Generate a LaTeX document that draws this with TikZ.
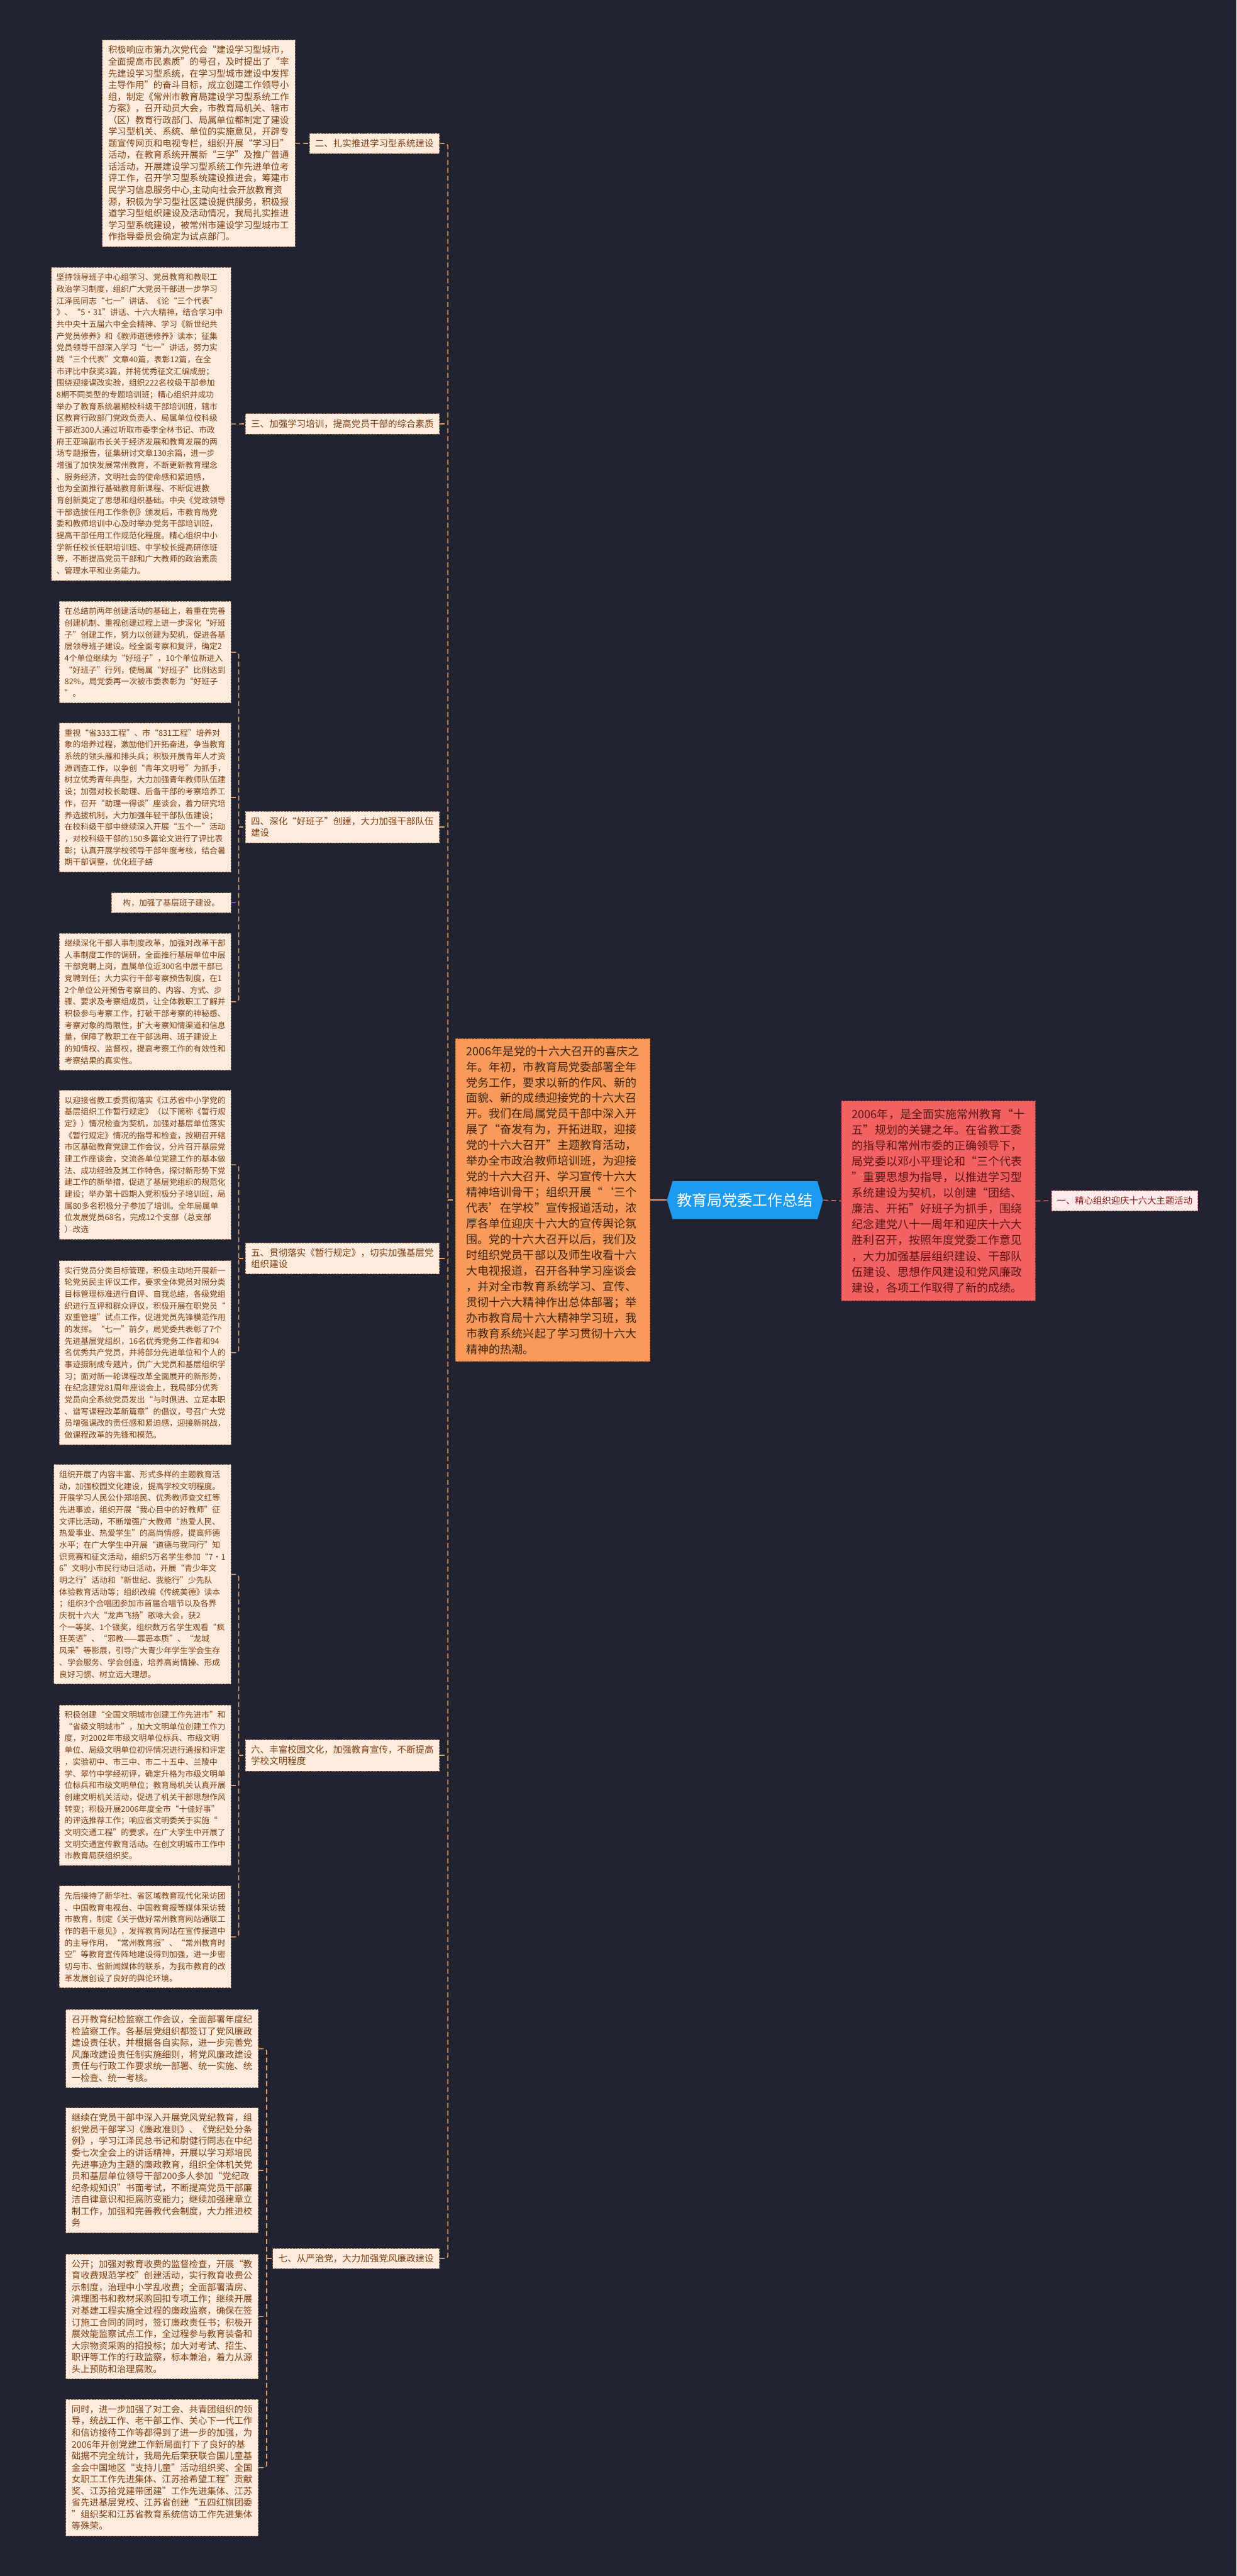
\documentclass[tikz,border=0pt]{standalone}
\usepackage{fontspec}
\setmainfont{Noto Sans CJK SC}
\usetikzlibrary{shapes.symbols}
\definecolor{bgc}{HTML}{212430}
\definecolor{leaffill}{HTML}{FDEBDD}
\definecolor{leafborder}{HTML}{9C7355}
\definecolor{leaftext}{HTML}{7B3F12}
\definecolor{connc}{HTML}{E8A067}
\definecolor{orangefill}{HTML}{F89A5A}
\definecolor{orangeborder}{HTML}{C8682A}
\definecolor{orangetext}{HTML}{3B2410}
\definecolor{bluefill}{HTML}{1D9BF0}
\definecolor{redfill}{HTML}{F26262}
\definecolor{redborder}{HTML}{B83C3C}
\definecolor{redtext}{HTML}{5B1414}
\definecolor{pinkfill}{HTML}{FDEAEA}
\definecolor{pinktext}{HTML}{8B1A1A}
\definecolor{redconnc}{HTML}{E07070}
\tikzset{
  boxbase/.style={draw=leafborder, fill=leaffill, text=leaftext, align=left,
    line width=0.35pt, dash pattern=on 1.2pt off 0.6pt, anchor=east},
  leafsmall/.style={boxbase, inner xsep=3.2pt, inner ysep=3.7pt,
    font=\fontsize{4.9}{7.15}\selectfont},
  leafbig/.style={boxbase, inner xsep=3.4pt, inner ysep=3.5pt,
    font=\fontsize{5.5}{7.1}\selectfont},
  labelbox/.style={boxbase, inner xsep=3.4pt, inner ysep=3.5pt,
    font=\fontsize{5.56}{6.9}\selectfont},
  conn/.style={draw=connc, line width=0.6pt, dash pattern=on 3pt off 1.8pt, rounded corners=1.5pt},
  redconn/.style={draw=redconnc, line width=0.6pt, dash pattern=on 3pt off 1.8pt},
  solidconn/.style={draw=connc, line width=0.8pt},
}
\begin{document}
\begin{tikzpicture}[x=1pt,y=-1pt]
\fill[bgc] (0,0) rectangle (752.7,1568);
\path[use as bounding box] (0,0) rectangle (752.7,1568);

% ---------- centre ----------
\node[shape=signal, signal to=west and east, signal pointer angle=147,
  fill=bluefill, text=white, minimum width=95pt, minimum height=23pt, inner xsep=1pt,
  font=\fontsize{9.2}{11}\selectfont] (root) at (453.5,730.5) {教育局党委工作总结};

\node[draw=orangeborder, fill=orangefill, text=orangetext, align=left,
  line width=0.4pt, dash pattern=on 1.2pt off 0.6pt, inner xsep=4pt, inner ysep=4.2pt,
  font=\fontsize{6.9}{9.55}\selectfont, anchor=east, minimum width=118.6pt] (orange) at (396,730.5) {%
2006年是党的十六大召开的喜庆之\\
年。年初，市教育局党委部署全年\\
党务工作，要求以新的作风、新的\\
面貌、新的成绩迎接党的十六大召\\
开。我们在局属党员干部中深入开\\
展了“奋发有为，开拓进取，迎接\\
党的十六大召开”主题教育活动，\\
举办全市政治教师培训班，为迎接\\
党的十六大召开、学习宣传十六大\\
精神培训骨干；组织开展“‘三个\\
代表’在学校”宣传报道活动，浓\\
厚各单位迎庆十六大的宣传舆论氛\\
围。党的十六大召开以后，我们及\\
时组织党员干部以及师生收看十六\\
大电视报道，召开各种学习座谈会\\
，并对全市教育系统学习、宣传、\\
贯彻十六大精神作出总体部署；举\\
办市教育局十六大精神学习班，我\\
市教育系统兴起了学习贯彻十六大\\
精神的热潮。};

\node[draw=redborder, fill=redfill, text=redtext, align=left,
  line width=0.4pt, dash pattern=on 1.2pt off 0.6pt, inner xsep=4.5pt, inner ysep=4.7pt,
  font=\fontsize{6.9}{9.6}\selectfont, anchor=west, minimum width=118pt] (red) at (512,731) {%
2006年，是全面实施常州教育“十\\
五”规划的关键之年。在省教工委\\
的指导和常州市委的正确领导下，\\
局党委以邓小平理论和“三个代表\\
”重要思想为指导，以推进学习型\\
系统建设为契机，以创建“团结、\\
廉洁、开拓”好班子为抓手，围绕\\
纪念建党八十一周年和迎庆十六大\\
胜利召开，按照年度党委工作意见\\
，大力加强基层组织建设、干部队\\
伍建设、思想作风建设和党风廉政\\
建设，各项工作取得了新的成绩。};

\node[draw=redconnc, fill=pinkfill, text=pinktext, line width=0.35pt,
  dash pattern=on 1.2pt off 0.6pt, inner xsep=3.2pt, inner ysep=3.6pt,
  font=\fontsize{5.5}{6.9}\selectfont, anchor=west] (right) at (640,730.9) {一、精心组织迎庆十六大主题活动};

\draw[solidconn] (root.west) -- (orange.east);
\draw[redconn] (root.east) -- (red.west);
\draw[redconn] (red.east) -- (right.west);

% ---------- branch labels ----------
\node[labelbox] (lab1) at (267.6,87.3) {二、扎实推进学习型系统建设};
\node[labelbox] (lab2) at (267.6,258) {三、加强学习培训，提高党员干部的综合素质};
\node[labelbox] (lab4) at (267.6,503.5) {四、深化“好班子”创建，大力加强干部队伍\\建设};
\node[labelbox] (lab5) at (267.6,766) {五、贯彻落实《暂行规定》，切实加强基层党\\组织建设};
\node[labelbox] (lab6) at (267.6,1068.5) {六、丰富校园文化，加强教育宣传，不断提高\\学校文明程度};
\node[labelbox] (lab7) at (267.6,1374.7) {七、从严治党，大力加强党风廉政建设};

\coordinate (mb) at (272.6,730.5);
\draw[conn] (lab1.east) -| (mb);
\draw[conn] (lab7.east) -| (mb);
\draw[conn] (mb) -- (orange.west);
\draw[conn] (lab2.east) -- (lab2.east -| mb);
\draw[conn] (lab4.east) -- (lab4.east -| mb);
\draw[conn] (lab5.east) -- (lab5.east -| mb);
\draw[conn] (lab6.east) -- (lab6.east -| mb);

% ---------- leaves ----------
\node[leafbig, minimum width=117.3pt] (l1) at (179.7,87.2) {%
积极响应市第九次党代会“建设学习型城市，\\
全面提高市民素质”的号召，及时提出了“率\\
先建设学习型系统，在学习型城市建设中发挥\\
主导作用”的奋斗目标，成立创建工作领导小\\
组，制定《常州市教育局建设学习型系统工作\\
方案》，召开动员大会，市教育局机关、辖市\\
（区）教育行政部门、局属单位都制定了建设\\
学习型机关、系统、单位的实施意见，开辟专\\
题宣传网页和电视专栏，组织开展“学习日”\\
活动，在教育系统开展新“三学”及推广普通\\
话活动，开展建设学习型系统工作先进单位考\\
评工作，召开学习型系统建设推进会，筹建市\\
民学习信息服务中心,主动向社会开放教育资\\
源，积极为学习型社区建设提供服务，积极报\\
道学习型组织建设及活动情况，我局扎实推进\\
学习型系统建设，被常州市建设学习型城市工\\
作指导委员会确定为试点部门。};
\draw[conn] (l1.east) -- (lab1.west);

\node[leafsmall, minimum width=104pt] (l2) at (140.7,258.1) {%
坚持领导班子中心组学习、党员教育和教职工\\
政治学习制度，组织广大党员干部进一步学习\\
江泽民同志“七一”讲话、《论“三个代表”\\
》、“5·31”讲话、十六大精神，结合学习中\\
共中央十五届六中全会精神、学习《新世纪共\\
产党员修养》和《教师道德修养》读本；征集\\
党员领导干部深入学习“七一”讲话，努力实\\
践“三个代表”文章40篇，表彰12篇，在全\\
市评比中获奖3篇，并将优秀征文汇编成册；\\
围绕迎接课改实验，组织222名校级干部参加\\
8期不同类型的专题培训班；精心组织并成功\\
举办了教育系统暑期校科级干部培训班，辖市\\
区教育行政部门党政负责人、局属单位校科级\\
干部近300人通过听取市委李全林书记、市政\\
府王亚瑜副市长关于经济发展和教育发展的两\\
场专题报告，征集研讨文章130余篇，进一步\\
增强了加快发展常州教育，不断更新教育理念\\
、服务经济，文明社会的使命感和紧迫感，\\
也为全面推行基础教育新课程、不断促进教\\
育创新奠定了思想和组织基础。中央《党政领导\\
干部选拔任用工作条例》颁发后，市教育局党\\
委和教师培训中心及时举办党务干部培训班，\\
提高干部任用工作规范化程度。精心组织中小\\
学新任校长任职培训班、中学校长提高研修班\\
等，不断提高党员干部和广大教师的政治素质\\
、管理水平和业务能力。};
\draw[conn] (l2.east) -- (lab2.west);

% group 4
\node[leafsmall, minimum width=104pt] (l3) at (140.7,397) {%
在总结前两年创建活动的基础上，着重在完善\\
创建机制、重视创建过程上进一步深化“好班\\
子”创建工作，努力以创建为契机，促进各基\\
层领导班子建设。经全面考察和复评，确定2\\
4个单位继续为“好班子”，10个单位新进入\\
“好班子”行列，使局属“好班子”比例达到\\
82\%，局党委再一次被市委表彰为“好班子\\
”。};
\node[leafsmall, minimum width=104pt] (l4) at (140.7,485.5) {%
重视“省333工程”、市“831工程”培养对\\
象的培养过程，激励他们开拓奋进，争当教育\\
系统的领头雁和排头兵；积极开展青年人才资\\
源调查工作，以争创“青年文明号”为抓手，\\
树立优秀青年典型，大力加强青年教师队伍建\\
设；加强对校长助理、后备干部的考察培养工\\
作，召开“助理一得谈”座谈会，着力研究培\\
养选拔机制，大力加强年轻干部队伍建设；\\
在校科级干部中继续深入开展“五个一”活动\\
，对校科级干部的150多篇论文进行了评比表\\
彰；认真开展学校领导干部年度考核，结合暑\\
期干部调整，优化班子结};
\node[leafsmall, minimum width=72.6pt] (l5) at (140.7,549.5) {构，加强了基层班子建设。};
\node[leafsmall, minimum width=104pt] (l6) at (140.7,609.8) {%
继续深化干部人事制度改革，加强对改革干部\\
人事制度工作的调研，全面推行基层单位中层\\
干部竞聘上岗，直属单位近300名中层干部已\\
竞聘到任；大力实行干部考察预告制度，在1\\
2个单位公开预告考察目的、内容、方式、步\\
骤、要求及考察组成员，让全体教职工了解并\\
积极参与考察工作，打破干部考察的神秘感、\\
考察对象的局限性，扩大考察知情渠道和信息\\
量，保障了教职工在干部选用、班子建设上\\
的知情权、监督权，提高考察工作的有效性和\\
考察结果的真实性。};
\coordinate (b4) at (145.3,503.5);
\draw[conn] (l3.east) -| (b4);
\draw[conn] (l6.east) -| (b4);
\draw[conn] (l4.east) -- (l4.east -| b4);
\draw[conn] (l5.east) -- (l5.east -| b4);
\draw[conn] (b4) -- (lab4.west);

% group 5
\node[leafsmall, minimum width=104pt] (l7) at (140.7,709) {%
以迎接省教工委贯彻落实《江苏省中小学党的\\
基层组织工作暂行规定》（以下简称《暂行规\\
定》）情况检查为契机，加强对基层单位落实\\
《暂行规定》情况的指导和检查，按期召开辖\\
市区基础教育党建工作会议，分片召开基层党\\
建工作座谈会，交流各单位党建工作的基本做\\
法、成功经验及其工作特色，探讨新形势下党\\
建工作的新举措，促进了基层党组织的规范化\\
建设；举办第十四期入党积极分子培训班，局\\
属80多名积极分子参加了培训。全年局属单\\
位发展党员68名，完成12个支部（总支部\\
）改选};
\node[leafsmall, minimum width=104pt] (l8) at (140.7,823.4) {%
实行党员分类目标管理，积极主动地开展新一\\
轮党员民主评议工作，要求全体党员对照分类\\
目标管理标准进行自评、自我总结，各级党组\\
织进行互评和群众评议，积极开展在职党员“\\
双重管理”试点工作，促进党员先锋模范作用\\
的发挥。“七一”前夕，局党委共表彰了7个\\
先进基层党组织，16名优秀党务工作者和94\\
名优秀共产党员，并将部分先进单位和个人的\\
事迹摄制成专题片，供广大党员和基层组织学\\
习；面对新一轮课程改革全面展开的新形势，\\
在纪念建党81周年座谈会上，我局部分优秀\\
党员向全系统党员发出“与时俱进、立足本职\\
、谱写课程改革新篇章”的倡议，号召广大党\\
员增强课改的责任感和紧迫感，迎接新挑战，\\
做课程改革的先锋和模范。};
\coordinate (b5) at (145.3,766);
\draw[conn] (l7.east) -| (b5);
\draw[conn] (l8.east) -| (b5);
\draw[conn] (b5) -- (lab5.west);

% group 6
\node[leafsmall, minimum width=104pt] (l9) at (140.7,958.3) {%
组织开展了内容丰富、形式多样的主题教育活\\
动，加强校园文化建设，提高学校文明程度。\\
开展学习人民公仆郑培民、优秀教师查文红等\\
先进事迹，组织开展“我心目中的好教师”征\\
文评比活动，不断增强广大教师“热爱人民、\\
热爱事业、热爱学生”的高尚情感，提高师德\\
水平；在广大学生中开展“道德与我同行”知\\
识竞赛和征文活动，组织5万名学生参加“7·1\\
6”文明小市民行动日活动，开展“青少年文\\
明之行”活动和“新世纪、我能行”少先队\\
体验教育活动等；组织改编《传统美德》读本\\
；组织3个合唱团参加市首届合唱节以及各界\\
庆祝十六大“龙声飞扬”歌咏大会，获2\\
个一等奖、1个银奖，组织数万名学生观看“疯\\
狂英语”、“邪教——罪恶本质”、“龙城\\
风采”等影展，引导广大青少年学生学会生存\\
、学会服务、学会创造，培养高尚情操、形成\\
良好习惯、树立远大理想。};
\node[leafsmall, minimum width=104pt] (l10) at (140.7,1086.7) {%
积极创建“全国文明城市创建工作先进市”和\\
“省级文明城市”，加大文明单位创建工作力\\
度，对2002年市级文明单位标兵、市级文明\\
单位、局级文明单位初评情况进行通报和评定\\
，实验初中、市三中、市二十五中、兰陵中\\
学、翠竹中学经初评，确定升格为市级文明单\\
位标兵和市级文明单位；教育局机关认真开展\\
创建文明机关活动，促进了机关干部思想作风\\
转变；积极开展2006年度全市“十佳好事”\\
的评选推荐工作；响应省文明委关于实施“\\
文明交通工程”的要求，在广大学生中开展了\\
文明交通宣传教育活动。在创文明城市工作中\\
市教育局获组织奖。};
\node[leafsmall, minimum width=104pt] (l11) at (140.7,1179) {%
先后接待了新华社、省区域教育现代化采访团\\
、中国教育电视台、中国教育报等媒体采访我\\
市教育，制定《关于做好常州教育网站通联工\\
作的若干意见》，发挥教育网站在宣传报道中\\
的主导作用，“常州教育报”、“常州教育时\\
空”等教育宣传阵地建设得到加强，进一步密\\
切与市、省新闻媒体的联系，为我市教育的改\\
革发展创设了良好的舆论环境。};
\coordinate (b6) at (145.3,1068.5);
\draw[conn] (l9.east) -| (b6);
\draw[conn] (l11.east) -| (b6);
\draw[conn] (l10.east) -- (l10.east -| b6);
\draw[conn] (b6) -- (lab6.west);

% group 7
\node[leafbig, minimum width=117.2pt] (l12) at (157.4,1247) {%
召开教育纪检监察工作会议，全面部署年度纪\\
检监察工作。各基层党组织都签订了党风廉政\\
建设责任状，并根据各自实际，进一步完善党\\
风廉政建设责任制实施细则，将党风廉政建设\\
责任与行政工作要求统一部署、统一实施、统\\
一检查、统一考核。};
\node[leafbig, minimum width=117.2pt] (l13) at (157.4,1321) {%
继续在党员干部中深入开展党风党纪教育，组\\
织党员干部学习《廉政准则》、《党纪处分条\\
例》，学习江泽民总书记和尉健行同志在中纪\\
委七次全会上的讲话精神，开展以学习郑培民\\
先进事迹为主题的廉政教育，组织全体机关党\\
员和基层单位领导干部200多人参加“党纪政\\
纪条规知识”书面考试，不断提高党员干部廉\\
洁自律意识和拒腐防变能力；继续加强建章立\\
制工作，加强和完善教代会制度，大力推进校\\
务};
\node[leafbig, minimum width=117.2pt] (l14) at (157.4,1410) {%
公开；加强对教育收费的监督检查，开展“教\\
育收费规范学校”创建活动，实行教育收费公\\
示制度，治理中小学乱收费；全面部署清房、\\
清理图书和教材采购回扣专项工作；继续开展\\
对基建工程实施全过程的廉政监察，确保在签\\
订施工合同的同时，签订廉政责任书；积极开\\
展效能监察试点工作，全过程参与教育装备和\\
大宗物资采购的招投标；加大对考试、招生、\\
职评等工作的行政监察，标本兼治，着力从源\\
头上预防和治理腐败。};
\node[leafbig, minimum width=117.2pt] (l15) at (157.4,1502) {%
同时，进一步加强了对工会、共青团组织的领\\
导，统战工作、老干部工作、关心下一代工作\\
和信访接待工作等都得到了进一步的加强，为\\
2006年开创党建工作新局面打下了良好的基\\
础据不完全统计，我局先后荣获联合国儿童基\\
金会中国地区“支持儿童”活动组织奖、全国\\
女职工工作先进集体、江苏拾希望工程”贡献\\
奖、江苏拾党建带团建”工作先进集体、江苏\\
省先进基层党校、江苏省创建“五四红旗团委\\
”组织奖和江苏省教育系统信访工作先进集体\\
等殊荣。};
\coordinate (b7) at (162.3,1374.7);
\draw[conn] (l12.east) -| (b7);
\draw[conn] (l15.east) -| (b7);
\draw[conn] (l13.east) -- (l13.east -| b7);
\draw[conn] (l14.east) -- (l14.east -| b7);
\draw[conn] (b7) -- (lab7.west);
\end{tikzpicture}
\end{document}
